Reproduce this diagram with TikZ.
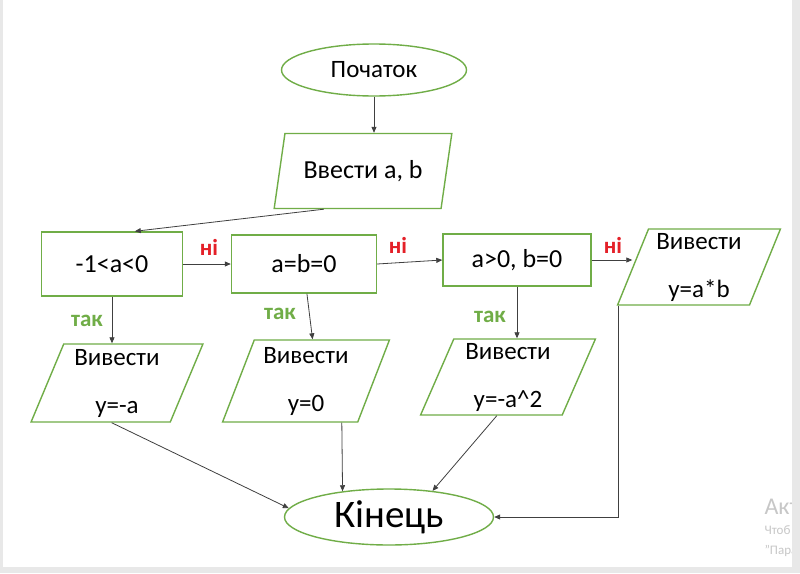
\documentclass[tikz,border=0pt]{standalone}
\usepackage{fontspec}
\setmainfont{Carlito}
\usetikzlibrary{calc,arrows.meta,shapes.geometric}
\definecolor{boxgreen}{RGB}{112,173,71}
\definecolor{nored}{RGB}{228,32,40}
\definecolor{stripgray}{RGB}{232,232,232}
\tikzset{
	term/.style={ellipse, draw=boxgreen, line width=1.4pt, inner sep=0pt},
	block/.style={rectangle, draw=boxgreen, line width=1.4pt, inner sep=0pt,
		font=\fontsize{26}{30}\selectfont},
	io/.style={trapezium, trapezium left angle=69, trapezium right angle=111,
		trapezium stretches=true, draw=boxgreen, line width=1.4pt, inner sep=0pt,
		align=center, font=\fontsize{25}{48}\selectfont},
	arr/.style={-{Triangle[length=6pt,width=5pt]}, draw=black!75, line width=0.8pt},
	lblni/.style={text=nored, font=\bfseries\fontsize{23}{23}\selectfont},
	lbltak/.style={text=boxgreen, font=\bfseries\fontsize{23}{23}\selectfont},
}

\begin{document}
\begin{tikzpicture}[x=1pt,y=-1pt]
		%%%%% START %%%%%
		\useasboundingbox (0,0) rectangle (800,573);
		\fill[white] (0,0) rectangle (800,573);
		
		\node[term, minimum width=185, minimum height=52, font=\fontsize{25}{29}\selectfont] (start) at (374,70) {Початок};
		\node[io, minimum width=178, minimum height=75, font=\fontsize{26}{30}\selectfont] (inp) at (363,171) {Ввести a, b};
		
		\node[block, minimum width=141, minimum height=64] (c1) at (112,264) {-1<a<0};
		\node[block, minimum width=145, minimum height=58] (c2) at (304,264) {a=b=0};
		\node[block, minimum width=148, minimum height=52] (c3) at (517,260) {a>0, b=0};
		\node[io, minimum width=163, minimum height=76] (out4) at (699,267) {Вивести\\y=a*b};
		
		\node[io, minimum width=172, minimum height=78] (out1) at (117,383) {Вивести\\y=-a};
		\node[io, minimum width=167, minimum height=82] (out2) at (306,381) {Вивести\\y=0};
		\node[io, minimum width=175, minimum height=76] (out3) at (508,377) {Вивести\\y=-a\^{}2};
		
		\node[term, minimum width=209, minimum height=56, font=\fontsize{39}{44}\selectfont] (end) at (389,517) {Кінець};
		
		\node[lblni] (ni1) at (209,247) {ні};
		\node[lblni] (ni2) at (398,245) {ні};
		\node[lblni] (ni3) at (613,245) {ні};
		\node[lbltak] (tak1) at (87,321) {так};
		\node[lbltak] (tak2) at (280,314) {так};
		\node[lbltak] (tak3) at (490,317) {так};
		
		% arrows
		\draw[arr] (start) -- (start.south |- inp.top side);
		\draw[arr] ($(inp.bottom left corner)!0.3!(inp.bottom right corner)$) -- ($(c1.north west)!0.66!(c1.north east)$);
		\draw[arr] (c1.east) -- (c2.west);
		\draw[arr] (c2.east) -- (c3.west);
		\draw[arr] (c3.east) -- (c3.east -| out4.left side);
		\draw[arr] (c1.south) -- (c1.south |- out1.top side);
		\draw[arr] ($(c2.south west)!0.52!(c2.south east)$) -- ($(out2.top left corner)!0.43!(out2.top right corner)$);
		\draw[arr] (c3.south) -- (c3.south |- out3.top side);
		\draw[arr] ($(out1.bottom left corner)!0.58!(out1.bottom right corner)$) -- (end.175);
		\draw[arr] ($(out2.bottom left corner)!0.88!(out2.bottom right corner)$) -- (end.151);
		\draw[arr] ($(out3.bottom left corner)!0.54!(out3.bottom right corner)$) -- (end.31);
		\draw[arr] ($(out4.bottom left corner)+(2,0)$) |- (end.east);
		
		% screen edges
		\node[anchor=west, text=black!22, font=\fontsize{24}{24}\selectfont] (wm1) at (761,507) {Акти};
		\node[anchor=west, text=black!22, font=\fontsize{13}{13}\selectfont] (wm2) at (761,530) {Чтоб};
		\node[anchor=west, text=black!22, font=\fontsize{13}{13}\selectfont] (wm3) at (761,551) {"Пара};
		\fill[stripgray] (792,0) rectangle (800,573);
		\fill[stripgray] (0,567) rectangle (800,573);
		\fill[stripgray] (0,0) rectangle (3,567);
		%%%%% END %%%%%
	\end{tikzpicture}
\end{document}
